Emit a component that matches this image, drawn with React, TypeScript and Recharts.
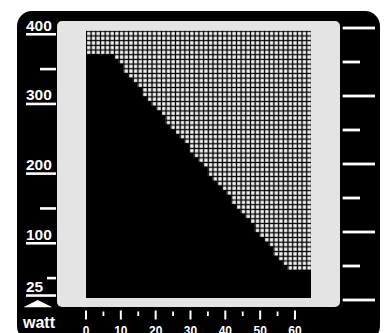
import { ComposedChart, Bar, XAxis, YAxis } from "recharts";

// watt level where the lit grid stops, one entry per column (left to right)
const columnWatts = [
  371, 371, 371, 371, 371, 371, 365, 358, 344, 338, 331, 324,
  311, 304, 297, 291, 284, 270, 264, 257, 250, 244, 230, 223,
  217, 210, 196, 190, 183, 176, 170, 156, 149, 143, 136, 129,
  116, 109, 102, 96, 82, 75, 69, 62, 62, 62, 62, 62,
];
const TOP_W = 405;

const wattTicks = [25, 50, 100, 150, 200, 300, 350, 400];
const wattLabels = [25, 100, 200, 300, 400];
const minuteTicks = [0, 5, 10, 15, 20, 25, 30, 35, 40, 45, 50, 55, 60];
const rightTicks = [0, 1, 2, 3, 4, 5, 6, 7, 8];

const CELL = 225 / 48;
const FONT = "'Liberation Sans', Arial, sans-serif";

const data = columnWatts.map((w, i) => ({ col: `c${i}`, w }));

const CellColumn = (props: any) => {
  const { x, y, height } = props;
  const rows = Math.round(height / CELL);
  if (rows <= 0) return null;
  return <rect x={x} y={y} width={CELL} height={rows * CELL} fill="url(#cells)" />;
};

const LeftTick = ({ y, payload }: any) => {
  const v = payload.value;
  if (wattLabels.includes(v)) {
    return (
      <g>
        <text x={26} y={y - 3.5} fill="#fff" fontSize={15.5} fontWeight="bold" fontFamily={FONT}>{v}</text>
        <rect x={26} y={y - 1.3} width={30} height={2.6} fill="#fff" />
      </g>
    );
  }
  const x0 = v === 50 ? 47 : 40;
  return <rect x={x0} y={y - 1.3} width={56 - x0} height={2.6} fill="#fff" />;
};

const BottomTick = ({ x, payload }: any) => {
  const v = payload.value;
  if (v % 10 === 0) {
    return (
      <g>
        <rect x={x - 1} y={310.5} width={2} height={9} fill="#fff" />
        <text x={x} y={335} fill="#fff" fontSize={12} fontWeight="bold" textAnchor="middle" fontFamily={FONT}>{v}</text>
      </g>
    );
  }
  return <rect x={x - 0.9} y={311.5} width={1.8} height={4.5} fill="#fff" />;
};

const RightTick = ({ y, payload }: any) => {
  const long = payload.value % 2 === 0;
  return <rect x={342.7} y={y - 1.4} width={long ? 32.3 : 17.3} height={2.8} fill="#fff" />;
};

export default function App() {
  return (
    <div style={{ position: "absolute", left: 0, top: 0, width: 387, height: 333, overflow: "hidden", background: "#ffffff" }}>
      <div style={{ position: "absolute", left: 17, top: 11, width: 363, height: 330, background: "#000", borderRadius: 15 }} />
      <div style={{ position: "absolute", left: 57, top: 21, width: 283, height: 286, background: "#e4e4e4", borderRadius: 5 }} />
      <div style={{ position: "absolute", left: 86, top: 30.8, width: 225, height: 267, background: "#000" }} />
      <div style={{ position: "absolute", left: 0, top: 0 }}>
        <ComposedChart width={387} height={333} data={data} margin={{ top: 28, right: 0, bottom: 0, left: 0 }} barCategoryGap={0} barGap={0}>
          <defs>
            <pattern id="cells" x={86} y={30.8} width={CELL} height={CELL} patternUnits="userSpaceOnUse">
              <rect x={0} y={0} width={CELL} height={CELL} fill="#000" />
              <rect x={1.1} y={1.1} width={3.4} height={3.4} fill="#f2f2f2" />
            </pattern>
          </defs>
          <XAxis xAxisId="cols" dataKey="col" hide />
          <XAxis xAxisId="min" dataKey="minute" type="number" domain={[0, 64.6]} allowDataOverflow ticks={minuteTicks} interval={0}
            height={33} axisLine={false} tickLine={false} tick={BottomTick} />
          <YAxis yAxisId="w" type="number" domain={[18.6, 409]} allowDataOverflow ticks={wattTicks} interval={0}
            width={86} axisLine={false} tickLine={false} tick={LeftTick} />
          <YAxis yAxisId="r" orientation="right" type="number" domain={[0, 8]} allowDataOverflow ticks={rightTicks} interval={0}
            width={76} axisLine={false} tickLine={false} tick={RightTick} />
          <Bar xAxisId="cols" yAxisId="w" dataKey={(d: any) => [d.w, TOP_W]} shape={CellColumn} isAnimationActive={false} />
        </ComposedChart>
      </div>
      <svg style={{ position: "absolute", left: 0, top: 0 }} width={387} height={333}>
        <polygon points="23.3,307.3 52.3,307.3 37.8,300" fill="#fff" />
        <text x={23} y={328} fill="#fff" fontSize={16} fontWeight="bold" fontFamily={FONT}>watt</text>
      </svg>
    </div>
  );
}
